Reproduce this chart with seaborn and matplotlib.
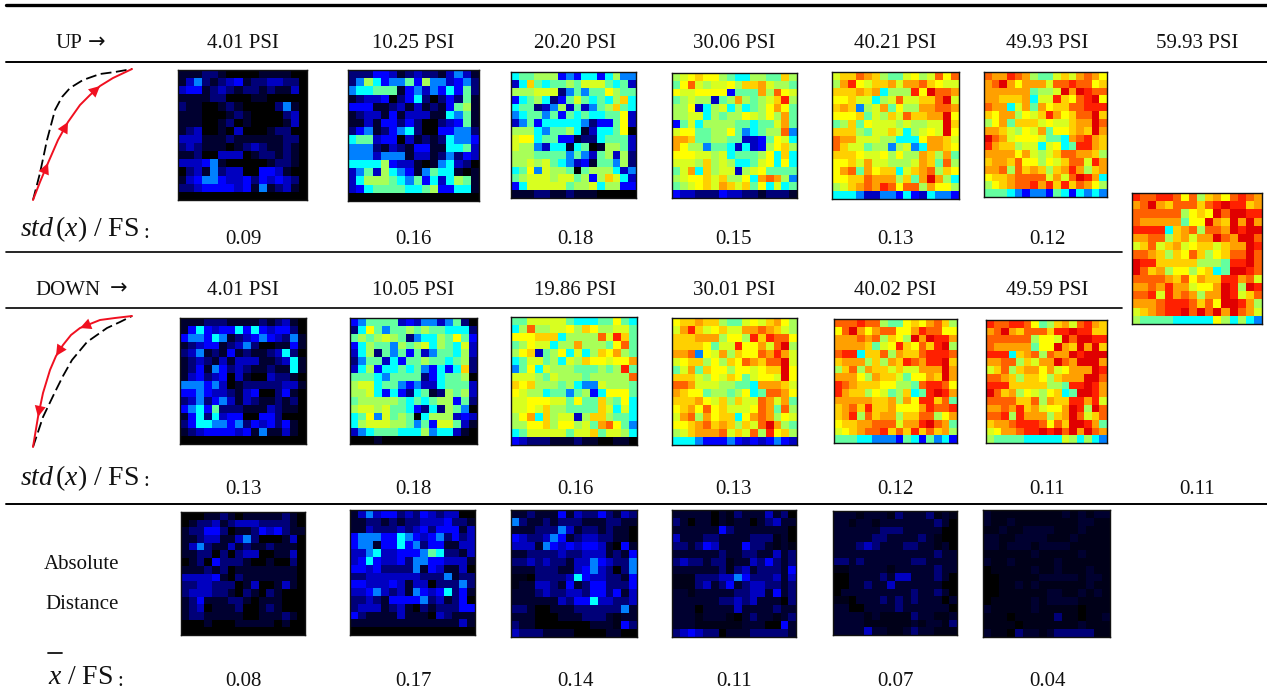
import matplotlib
matplotlib.use("Agg")
import matplotlib.pyplot as plt
from matplotlib.colors import ListedColormap
import numpy as np
import seaborn as sns

W, H = 1267, 697

# cell levels, one digit per cell, 0 = black ... f = dark red, g = almost black navy
level_colors = ["#000000", "#000030", "#000078", "#0000c0", "#0000ff", "#0080ff", "#00ffff", "#64ffa0",
                "#a8ff58", "#d8ff20", "#ffff00", "#ffd000", "#ffa000", "#ff6000", "#ff2000", "#e00000",
                "#000018"]

up_4 = ["1112210000111100", "1352123412233220", "3441232122121130", "1111220001100000",
        "2110012100002510", "1110001210000230", "1110012010000130", "1230010300012200",
        "3331112111111220", "2321110123211210", "1120033301221210", "3334510000012210",
        "0231523300443100", "1345543342434320", "2234444341512310", "0000000000000000"]
up_10 = ["2224431232213531", "2586455748553452", "5667771453546472", "1233402462024271",
         "4441123131214781", "1233141333116571", "1131442420023471", "2451245620044552",
         "6773440312126554", "5552132144116673", "5553555133125243", "6666843310156320",
         "3573865415766101", "3688876574636871", "3467777667844661", "0000000000000000"]
up_20 = ["6778884546646855", "36b7677879997673", "888999257577a877", "46786247976768b6",
         "6772358373578b76", "56775747676677a3", "35746666652447a3", "88865778613667a0",
         "9aa6774412267773", "9885366167018873", "8887777575378382", "8898976534177582",
         "67a5988707888635", "789998997848b963", "4699999788968844", "1112211211100000"]
up_30 = ["89abaa87668877b8", "7ad9899a8bbc9887", "a99aaaa4777c8da9", "78988378c8789be8",
         "88a368968678aca7", "889968788a98a8c7", "47968888776779c7", "9aa7788a756788d5",
         "ccb7788773347a96", "ca88577636348ab8", "aaa998967778a6b6", "9998b8986679a6a6",
         "79c6b899389a7777", "89aab9b88a6cdc85", "789ab9cb9b7a6967", "4332224332212221"]
up_40 = ["9bbdcb8779a89dad", "8cea9bbc9ccdba99", "bbbcbc6888eafddc", "aab99689d99bbdf9",
         "bcb589c7a88ccddc", "aaab798b9dbbccfa", "78b7a999898899fb", "bbb8799b9689a9fa",
         "dcc99988666accb9", "db9978858956ccba", "bbba99a8a88cb8c7", "aab9c998889cb7d8",
         "acd7cabb69bcd8ba", "aabbdccc8b7cfc86", "89bcdcedadd8caa8", "6665335546436554"]
up_49 = ["dccedc8779b9cdca", "cdfcaccc9ddeddab", "cccccc7889fcfedd", "ccbbbc699ebadefa",
         "dcc69c7cabbddeee", "bacc8a9becabddfb", "8ac7bbb9a99bccfd", "ccb98a9c7aabcbfc",
         "fdc9aaa9776cdecb", "ecbb89969a67eecb", "ccccac989bddccb8", "bccbdaa8a9bdd9ec",
         "ccd8dbcb8bcec8bc", "abbcdddd9c9dfec6", "8abcddecebebdca8", "7776545547646565"]
up_59 = ["eddeedad8bcadedc", "cdfcbdddbdefeebc", "dddddd8abafdffee", "dccccc7aafcbfcfc",
         "eeee6bcd8ddcfeff", "ccdd8bc9ccfdcffd", "9bd9bc9abb9bccfe", "ddcb8badb8abddfd",
         "feebbbbb8887eefd", "fdbc8aa8ab67ffed", "ddddcbdacbbeecd9", "ccdcecc9aacfe8fe",
         "dde9ecdc8ccfe9bd", "cccdeeedbdaffec8", "9bcdeefdfdfcfdc9", "8777766666a86865"]

down_4 = ["1112221111212310", "1464344646434420", "4554651234543251", "1234412352001141",
          "2351214121123620", "1232131333112361", "1241542321121161", "1342340310032210",
          "5554530122222331", "4454332134002410", "2352453132112120", "4564722211132110",
          "1462634400442000", "2466554524342410", "1234444341511310", "0000000000000000"]
down_10 = ["4577773435535720", "26a7577878776662", "7878987256687a74", "4687758789687693",
           "3682757473577683", "2577364778776782", "36846676754646b2", "7776577772467780",
           "8996775453367773", "8896464267128783", "7888887676788472", "8998977642628750",
           "67a5978706888343", "6899988757499731", "3567776668566310", "0001000000000000"]
down_19 = ["7799999766677a76", "68d8899a8ba88997", "aaabbb68888d9eb7", "78a99688c8887ad7",
           "8ab378a6968bac87", "679978698baa9aac", "57a69888777878e7", "999879888788888d",
           "bab8887865598887", "a98867757846aaa7", "99aaa997a77b87a6", "99a9b887777b9696",
           "8ac6b89938bb8776", "88aab8aa897cda75", "6799999799b79986", "4322211121100110"]
down_30 = ["abbcbb8779a9bca8", "9ceb9ab99ccdcb98", "bbbccc8aa8ebedda", "bbbba799eaac9df8",
           "ccd5a9c8baadcec9", "9abb8a8badcbddf9", "79c7baa8aa9abbfa", "bbb98a9ba79aa9fa",
           "ddc99988776cccb9", "cbaa78878a67ddca", "bbbca9b8b99dc9c7", "abcadab999adc7d8",
           "9cd8cabb6acdc8a9", "aabcdbcb8b9dfc87", "89bcccd9b9d8eab8", "6665444543434543"]
down_40 = ["dddedd877abacdb8", "adfcacddaaceddaa", "cccdcd8ba8fcfeec", "ccccb79aebadbef8",
           "dee6bbd8cbbdeeed", "bccc8b8cbedceefb", "8bd8cbb9b99cccfc", "ccca8cbb97aacbfc",
           "edcbbbaa887deeda", "ecbb8a978b67efec", "cccccbbc8caeebd7", "bcdbebbcaaacedde",
           "bce8dbcc8bbdd8ac", "abbccddd9ccefdc7", "9abcddebdbebdbc8", "7776655547647564"]
down_49 = ["eddeeda78bc9decb", "cdfcbdddbeefeebb", "dddddd8aa9fdffee", "dccccc7aafcbfcfb",
           "eee6bcd8dccfefff", "ccdd8b9ccfdcfffc", "9bd8bccac9acccfe", "ddcb8bba8bcccffd",
           "eeebbbbb887eefec", "fdbc8a98ab67ffec", "ddddbbd8cbbeece9", "ccdcebc9aacfe8fd",
           "dde8eccc8bcfd9bd", "bccdeeedadbffec7", "9accdeefefdfcfdc", "8777766666986865"]

abs_4 = ["0001121011111210", "0122312333222210", "1224420112434211", "1123311352000130",
         "1352113121121110", "1122020233001130", "0120422210010020", "1112120111111110",
         "3333410211111110", "2233222013001310", "2333221021021000", "1241112210111000",
         "1230111200121000", "1221111100111210", "0001000111110100", "0000000000000000"]
abs_10 = ["1353442324323300", "1122121223334221", "1132223234244413", "4555446543452423",
          "4551446452441133", "3356334445762213", "3464334255443331", "4434222251431130",
          "2233333332225122", "4433343133022252", "3345323154346241", "2232144445231240",
          "2333123102122244", "4211113111032111", "1111111111111131", "0000000000000000"]
abs_20 = ["1121114132242132", "5211212221112211", "1112225312212110", "4322354123322110",
          "3331543434431041", "1122223223331214", "2232322133543225", "1112221134532025",
          "gg02222364332214", "g113321412442224", "1112322332442413", "1111113244633223",
          "2210011122222251", "1110001112221g11", "2110000000111g42", "3222111100001100"]
abs_30 = ["1111101g21113120", "2101101g11012311", "1111114211111110", "3111221111222g10",
          "2212431114221g1g", "1111112112211312", "2322122g11324212", "1111112g23122214",
          "ggg2223354222313", "ggg2312412332212", "11g1111122331412", "1111112232311102",
          "1110111131111211", "111g111g01211g12", "111gggggg1110041", "2343220111222221"]
abs_40 = ["111g111g21112g1g", "11g11g1111111210", "1111112221111100", "1111122111121g00",
          "1112321112211g10", "1111111111111211", "2212111111221111", "gg11111g11111211",
          "0011112133111210", "0011211311111100", "0111111111211210", "gg01112121211101",
          "1100111121111110", "1111g1gggg211gg1", "1111gggggg1g11g2", "1111311gg1211ggg"]
abs_49 = ["1ggggggggg1g1g11", "1gg1gggggggg11gg", "gg1gg1111ggg1ggg", "11gg1111ggg1gggg",
          "11g111g1111ggggg", "gggggg1ggggg1ggg", "1gg1ggggg1gggggg", "0ggggg1gg1ggg1gg",
          "00ggggg11111g11g", "00gg1g1gggggg1gg", "00gggggg11gg1g1g", "0ggggg1g1111gggg",
          "1ggggg1ggggg0ggg", "ggg0ggggg2gg0gg1", "gggg0ggggggg1ggg", "1gg0211g122222gg"]

# panel edges in picture pixels: left, right, top, bottom
panels = [(up_4, 178, 307, 70, 200), (up_10, 348, 479, 70, 201), (up_20, 511, 636, 72, 198),
          (up_30, 672, 797, 73, 198), (up_40, 832, 959, 72, 199), (up_49, 984, 1107, 72, 197),
          (up_59, 1132, 1262, 193, 324),
          (down_4, 180, 306, 318, 444), (down_10, 350, 477, 318, 444), (down_19, 511, 637, 317, 445),
          (down_30, 672, 797, 318, 445), (down_40, 834, 957, 319, 443), (down_49, 986, 1107, 320, 443),
          (abs_4, 181, 305, 512, 635), (abs_10, 350, 475, 510, 635), (abs_20, 511, 637, 510, 637),
          (abs_30, 672, 796, 510, 637), (abs_40, 833, 957, 511, 635), (abs_49, 983, 1110, 510, 637)]

col_x = [243, 413, 575, 734, 895, 1047, 1197]
up_psi = ["4.01 PSI", "10.25 PSI", "20.20 PSI", "30.06 PSI", "40.21 PSI", "49.93 PSI", "59.93 PSI"]
down_psi = ["4.01 PSI", "10.05 PSI", "19.86 PSI", "30.01 PSI", "40.02 PSI", "49.59 PSI"]
up_std = ["0.09", "0.16", "0.18", "0.15", "0.13", "0.12"]
down_std = ["0.13", "0.18", "0.16", "0.13", "0.12", "0.11", "0.11"]
abs_mean = ["0.08", "0.17", "0.14", "0.11", "0.07", "0.04"]

up_dash_x = [33, 40, 47, 55, 62, 70, 83, 100, 115, 132]
up_dash_y = [200, 173, 140, 110, 97, 88, 80, 74, 72, 69]
up_red_x = [33, 40, 48, 58, 68, 80, 90, 100, 113, 132]
up_red_y = [200, 182, 163, 140, 122, 105, 95, 86, 78, 69]
down_dash_x = [33, 43, 55, 63, 72, 87, 107, 120, 132]
down_dash_y = [447, 417, 392, 376, 360, 342, 328, 322, 316]
down_red_x = [33, 38, 43, 50, 56, 63, 71, 80, 100, 115, 132]
down_red_y = [447, 417, 393, 370, 356, 345, 335, 328, 320, 318, 316]

sns.set_theme(style="white")
plt.rcParams["font.family"] = ["Liberation Serif", "DejaVu Sans"]
plt.rcParams["mathtext.fontset"] = "custom"
plt.rcParams["mathtext.rm"] = "Liberation Serif"
plt.rcParams["mathtext.it"] = "Liberation Serif:italic"

fig = plt.figure(figsize=(W / 100, H / 100), dpi=100)
cmap = ListedColormap(level_colors)

for rows, left, right, top, bottom in panels:
    grid = np.array([[int(c, 17) for c in row] for row in rows])
    ax = fig.add_axes([left / W, 1 - bottom / H, (right - left) / W, (bottom - top) / H])
    sns.heatmap(grid, ax=ax, cmap=cmap, vmin=-0.5, vmax=16.5, cbar=False,
                xticklabels=False, yticklabels=False)
    for s in ax.spines.values():
        s.set_visible(True)
        s.set_color("#111111")
        s.set_linewidth(1.0)

# everything else goes on one overlay in picture pixels
over = fig.add_axes([0, 0, 1, 1], zorder=5)
over.set_xlim(0, W)
over.set_ylim(H, 0)
over.axis("off")
over.patch.set_alpha(0)

over.plot([6, W], [5, 5], color="black", lw=2.4)
over.plot([6, W], [62, 62], color="black", lw=1.4)
over.plot([6, 1122], [252, 252], color="black", lw=1.2)
over.plot([6, 1122], [308, 308], color="black", lw=1.2)
over.plot([6, W], [504, 504], color="black", lw=1.4)

fs = 15
ink = "#111111"
for y, labels in [(43.5, up_psi), (290.5, down_psi), (239.5, up_std), (489.5, down_std), (681.5, abs_mean)]:
    for x, t in zip(col_x, labels):
        over.text(x, y, t, ha="center", va="center", fontsize=fs, color=ink)

over.text(69, 43.5, "UP", ha="center", va="center", fontsize=fs, color=ink)
over.text(97, 42, "\u2192", ha="center", va="center", fontsize=15, color=ink, family="DejaVu Sans")
over.text(68, 290.5, "DOWN", ha="center", va="center", fontsize=fs, color=ink)
over.text(119, 288, "\u2192", ha="center", va="center", fontsize=15, color=ink, family="DejaVu Sans")
over.text(82, 564.5, "Absolute", ha="center", va="center", fontsize=fs, color=ink)
over.text(82, 604.5, "Distance", ha="center", va="center", fontsize=fs, color=ink)

label = r"$\mathit{std}\,(\mathit{x})\ /\ \mathrm{FS}$"
for y in (229, 478):
    over.text(20, y, label, ha="left", va="center", fontsize=20, color=ink)
    over.text(146, y + 4, ":", ha="center", va="center", fontsize=15, color=ink)
over.text(48, 678, r"$\mathit{x}\ /\ \mathrm{FS}$", ha="left", va="center", fontsize=20, color=ink)
over.text(120, 682, ":", ha="center", va="center", fontsize=15, color=ink)
over.plot([48, 62], [653, 653], color=ink, lw=1.3)

red = "#f01020"
over.plot(up_dash_x, up_dash_y, color="black", lw=1.3, dashes=(6, 2.5))
over.plot(up_red_x, up_red_y, color=red, lw=1.4)
over.plot(down_dash_x, down_dash_y, color="black", lw=1.3, dashes=(6, 2.5))
over.plot(down_red_x, down_red_y, color=red, lw=1.4)

# arrow heads sit on the red curves, each from one curve point to the next
for xs, ys, pairs in [(up_red_x, up_red_y, [(1, 2), (3, 4), (6, 7)]),
                      (down_red_x, down_red_y, [(8, 7), (5, 4), (2, 1)])]:
    for a, b in pairs:
        over.annotate("", xy=(xs[b], ys[b]), xytext=(xs[a], ys[a]),
                      arrowprops=dict(arrowstyle="-|>", color=red, lw=0, mutation_scale=20,
                                      shrinkA=0, shrinkB=0))

fig.savefig("out.png", dpi=100)
